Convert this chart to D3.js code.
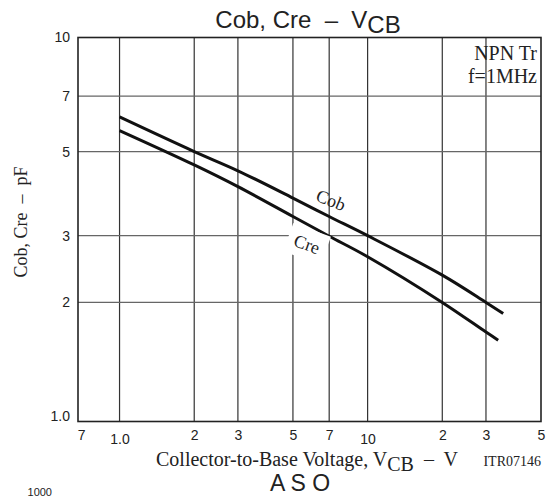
<!DOCTYPE html>
<html>
<head>
<meta charset="utf-8">
<script src="https://cdn.jsdelivr.net/npm/d3@7"></script>
<style>
  body { margin: 0; background: #fff; }
  svg { display: block; }
  .sans { font-family: "Liberation Sans", Arial, sans-serif; }
  .serif { font-family: "Liberation Serif", "Times New Roman", serif; }
</style>
</head>
<body>
<div id="chart"></div>
<script>
// datos
const cobV = [1, 2, 3, 5, 7, 10, 20, 30, 35.2];
const cob = [6.17, 5.0, 4.45, 3.77, 3.37, 3.0, 2.36, 2.0, 1.87];
const creV = [1, 2, 3, 5, 7, 10, 20, 30, 33.6];
const cre = [5.68, 4.61, 4.04, 3.37, 2.99, 2.64, 2.0, 1.67, 1.59];

const xTicks = [0.7, 1, 2, 3, 5, 7, 10, 20, 30, 50];
const xTickLabels = ["7", "1.0", "2", "3", "5", "7", "10", "2", "3", "5"];
const xGrid = [1, 2, 3, 5, 7, 10, 20, 30];
const yTicks = [1, 2, 3, 5, 7, 10];
const yTickLabels = ["1.0", "2", "3", "5", "7", "10"];
const yGrid = [2, 3, 5, 7];

const svg = d3.select("#chart").append("svg")
    .attr("width", 546)
    .attr("height", 497);

// Escalas
const x = d3.scaleLog().domain([0.68, 50]).range([78, 541]);
const y = d3.scaleLog().domain([0.97, 10]).range([421.5, 37.5]);

// rejilla
svg.append("g").selectAll("line")
    .data(xGrid)
    .enter().append("line")
    .attr("x1", d => x(d)).attr("x2", d => x(d))
    .attr("y1", y.range()[0]).attr("y2", y.range()[1])
    .attr("stroke", "#333").attr("stroke-width", 1.2);

svg.append("g").selectAll("line")
    .data(yGrid)
    .enter().append("line")
    .attr("x1", x.range()[0]).attr("x2", x.range()[1])
    .attr("y1", d => y(d)).attr("y2", d => y(d))
    .attr("stroke", "#666").attr("stroke-width", 1.2);

// marco
svg.append("rect")
    .attr("x", x.range()[0]).attr("y", y.range()[1])
    .attr("width", x.range()[1] - x.range()[0])
    .attr("height", y.range()[0] - y.range()[1])
    .attr("fill", "none").attr("stroke", "#222").attr("stroke-width", 1.6);

// ejes (sin líneas, solo etiquetas)
const xAxis = d3.axisBottom(x).tickValues(xTicks).tickSize(0).tickPadding(9)
    .tickFormat((d, i) => xTickLabels[i]);
const gx = svg.append("g").attr("transform", `translate(0,${y.range()[0]})`).call(xAxis);
gx.select(".domain").remove();
gx.selectAll("text").attr("class", "sans").style("font-size", "14px").attr("fill", "#222")
    .attr("dy", (d, i) => (xTickLabels[i] === "1.0" || xTickLabels[i] === "10") ? "0.95em" : "0.71em");

const yAxis = d3.axisLeft(y).tickValues(yTicks).tickSize(0).tickPadding(8)
    .tickFormat((d, i) => yTickLabels[i]);
const gy = svg.append("g").attr("transform", `translate(${x.range()[0]},0)`).call(yAxis);
gy.select(".domain").remove();
gy.selectAll("text").attr("class", "sans").style("font-size", "14px").attr("fill", "#222");

// curvas
const line = d3.line()
    .x(d => x(d[0]))
    .y(d => y(d[1]))
    .curve(d3.curveCatmullRom.alpha(0.5));

svg.append("path")
    .datum(cobV.map((v, i) => [v, cob[i]]))
    .attr("d", line)
    .attr("fill", "none").attr("stroke", "#111").attr("stroke-width", 3);

svg.append("path")
    .datum(creV.map((v, i) => [v, cre[i]]))
    .attr("d", line)
    .attr("fill", "none").attr("stroke", "#111").attr("stroke-width", 3);

// etiquetas de curvas
svg.append("text")
    .attr("class", "serif")
    .attr("transform", "translate(331,200) rotate(22)")
    .attr("text-anchor", "middle").attr("dy", "0.35em")
    .style("font-size", "18px").attr("fill", "#222")
    .text("Cob");

const creG = svg.append("g").attr("transform", "translate(307,244) rotate(20)");
creG.append("rect").attr("x", -20).attr("y", -15).attr("width", 40).attr("height", 30).attr("fill", "#fff");
creG.append("text")
    .attr("class", "serif")
    .attr("text-anchor", "middle").attr("dy", "0.35em")
    .style("font-size", "18px").attr("fill", "#222")
    .text("Cre");

// nota
svg.append("text").attr("class", "serif")
    .attr("x", 537).attr("y", 60).attr("text-anchor", "end")
    .style("font-size", "20px").attr("fill", "#222")
    .text("NPN Tr");
svg.append("text").attr("class", "serif")
    .attr("x", 537).attr("y", 83).attr("text-anchor", "end")
    .style("font-size", "20px").attr("fill", "#222")
    .text("f=1MHz");

// título
const title = svg.append("text").attr("class", "sans")
    .attr("x", 308).attr("y", 28).attr("text-anchor", "middle")
    .style("font-size", "24px").style("white-space", "pre").attr("fill", "#222");
title.append("tspan").text("Cob, Cre  \u2013  V");
title.append("tspan").attr("dy", 5).text("CB");

// eje y título
svg.append("text").attr("class", "serif")
    .attr("transform", "translate(27,222) rotate(-90)")
    .attr("text-anchor", "middle")
    .style("font-size", "18px").style("white-space", "pre").attr("fill", "#222")
    .text("Cob, Cre  \u2013  pF");

// eje x título
const xt = svg.append("text").attr("class", "serif")
    .attr("x", 307).attr("y", 466).attr("text-anchor", "middle")
    .style("font-size", "20px").style("white-space", "pre").attr("fill", "#222");
xt.append("tspan").text("Collector-to-Base Voltage, V");
xt.append("tspan").attr("dy", 5).text("CB");
xt.append("tspan").attr("dy", -5).text("  \u2013  V");

svg.append("text").attr("class", "serif")
    .attr("x", 541).attr("y", 466).attr("text-anchor", "end")
    .style("font-size", "14px").attr("fill", "#222")
    .text("ITR07146");

// siguiente gráfico (recortado en el original)
svg.append("text").attr("class", "sans")
    .attr("x", 300).attr("y", 491).attr("text-anchor", "middle")
    .style("font-size", "23px").style("white-space", "pre").attr("fill", "#222")
    .text("A S O");

svg.append("text").attr("class", "sans")
    .attr("x", 52).attr("y", 496).attr("text-anchor", "end")
    .style("font-size", "11px").attr("fill", "#222")
    .text("1000");
</script>
</body>
</html>
